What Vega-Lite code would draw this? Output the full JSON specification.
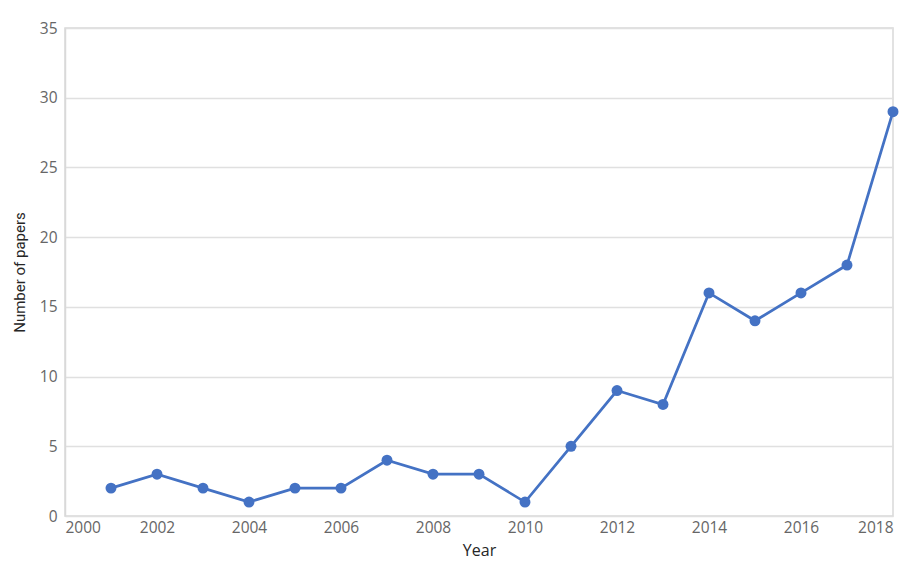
{
  "$schema": "https://vega.github.io/schema/vega-lite/v6.json",
  "autosize": "none",
  "width": 828,
  "height": 488,
  "padding": {"left": 65, "top": 28, "right": 24, "bottom": 57},
  "background": "white",
  "config": {
    "view": {"stroke": "#d9d9d9", "strokeWidth": 1.5},
    "axis": {"labelFont": "Open Sans", "titleFont": "Open Sans", "labelColor": "#666666", "labelFontSize": 15.5, "gridColor": "#e0e0e0", "gridWidth": 1.5}
  },
  "data": {"values": [
    {"year": 2001, "papers": 2},
    {"year": 2002, "papers": 3},
    {"year": 2003, "papers": 2},
    {"year": 2004, "papers": 1},
    {"year": 2005, "papers": 2},
    {"year": 2006, "papers": 2},
    {"year": 2007, "papers": 4},
    {"year": 2008, "papers": 3},
    {"year": 2009, "papers": 3},
    {"year": 2010, "papers": 1},
    {"year": 2011, "papers": 5},
    {"year": 2012, "papers": 9},
    {"year": 2013, "papers": 8},
    {"year": 2014, "papers": 16},
    {"year": 2015, "papers": 14},
    {"year": 2016, "papers": 16},
    {"year": 2017, "papers": 18},
    {"year": 2018, "papers": 29}
  ]},
  "encoding": {
    "x": {"field": "year", "type": "quantitative",
      "scale": {"domain": [2000, 2018], "nice": false, "zero": false},
      "axis": {"values": [2000, 2002, 2004, 2006, 2008, 2010, 2012, 2014, 2016, 2018], "format": "d", "grid": false, "ticks": false, "domain": false, "labelPadding": 4, "title": "Year", "titleFontSize": 16, "titleFontWeight": "normal", "titleColor": "#262626", "titlePadding": 7}},
    "y": {"field": "papers", "type": "quantitative",
      "scale": {"domain": [0, 35], "nice": false},
      "axis": {"values": [0, 5, 10, 15, 20, 25, 30, 35], "ticks": false, "domain": true, "domainColor": "#d9d9d9", "domainWidth": 1.5, "labelPadding": 8, "title": "Number of papers", "titleFont": "Roboto", "titleFontSize": 15, "titleFontWeight": "normal", "titleColor": "#262626", "titlePadding": 12}}
  },
  "layer": [
    {"mark": {"type": "line", "color": "#4472C4", "strokeWidth": 2.75}},
    {"mark": {"type": "point", "filled": true, "color": "#4472C4", "opacity": 1, "size": 120}}
  ]
}
